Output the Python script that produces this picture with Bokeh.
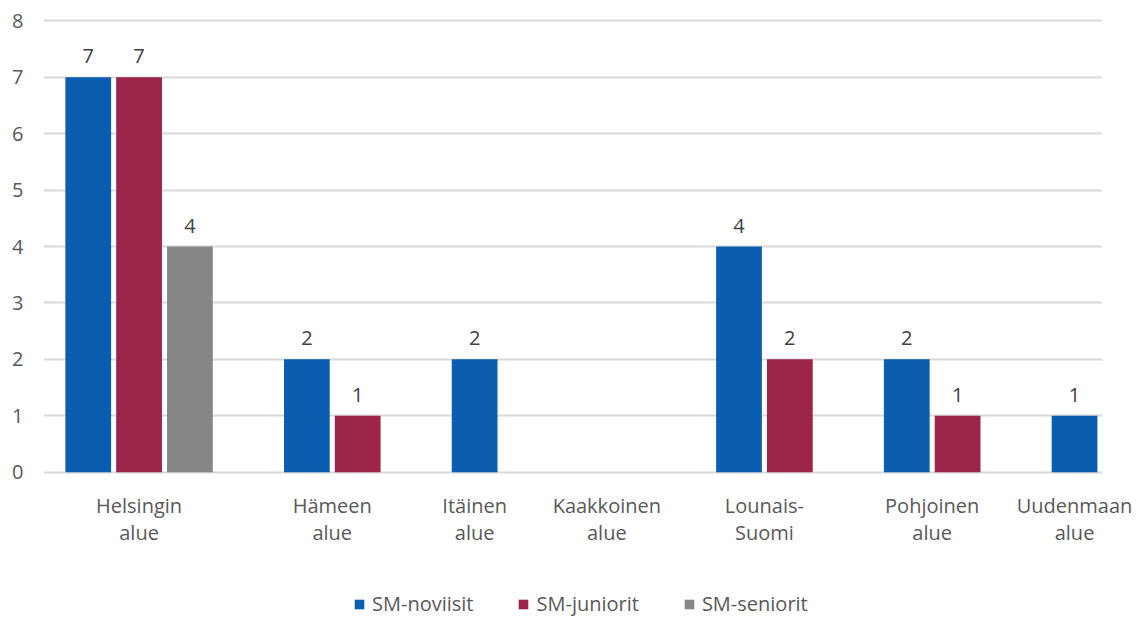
from bokeh.plotting import figure
from bokeh.models import ColumnDataSource, FixedTicker, Legend, LegendItem, Range1d
from bokeh.layouts import column
from bokeh.core.properties import value
from bokeh.embed import file_html
from bokeh.resources import INLINE

# ---- data ----
categories = ["Helsingin alue", "Hämeen alue", "Itäinen alue", "Kaakkoinen alue",
              "Lounais-Suomi", "Pohjoinen alue", "Uudenmaan alue"]
category_labels = ["Helsingin\nalue", "Hämeen\nalue", "Itäinen\nalue", "Kaakkoinen\nalue",
                   "Lounais-\nSuomi", "Pohjoinen\nalue", "Uudenmaan\nalue"]
series_names = ["SM-noviisit", "SM-juniorit", "SM-seniorit"]
noviisit = [7, 2, 2, 0, 4, 2, 1]
juniorit = [7, 1, 0, 0, 2, 1, 0]
seniorit = [4, 0, 0, 0, 0, 0, 0]
y_ticks = [0, 1, 2, 3, 4, 5, 6, 7, 8]

# ---- style ----
colors = ["#0B5EAF", "#9B2549", "#868686"]
FONT = "Open Sans"
FS = "20px"
TEXT_COLOR = "#595959"
LABEL_COLOR = "#404040"

# ---- layout (slots only for bars that exist, like the original) ----
LEFT_PAD, GAP, EMPTY, RIGHT_PAD = 0.38, 1.3, 1.6, 0.05
all_series = [noviisit, juniorit, seniorit]
bars = {i: {"x": [], "top": [], "label": []} for i in range(3)}
tick_pos = []
cursor = LEFT_PAD
for ci, cat in enumerate(categories):
    if ci > 0:
        cursor += GAP
    start = cursor
    present = [si for si in range(3) if all_series[si][ci] > 0]
    if present:
        for si in present:
            bars[si]["x"].append(cursor + 0.5)
            bars[si]["top"].append(all_series[si][ci])
            bars[si]["label"].append(str(all_series[si][ci]))
            cursor += 1
    else:
        cursor += EMPTY
    tick_pos.append((start + cursor) / 2)
x_end = cursor + RIGHT_PAD

p = figure(width=1140, height=555, output_backend="svg", toolbar_location=None,
           x_range=Range1d(0, x_end), y_range=Range1d(-0.04, 8.04),
           min_border_left=43, min_border_right=38, min_border_top=18, min_border_bottom=81)
p.outline_line_color = None
p.background_fill_color = "white"
p.border_fill_color = "white"

for si in range(3):
    src = ColumnDataSource(bars[si])
    p.vbar(x="x", top="top", bottom=0, width=0.9, source=src,
           fill_color=colors[si], line_color=None)
    p.text(x="x", y="top", text="label", source=src, text_align="center",
           text_baseline="alphabetic", y_offset=-21, text_font=value(FONT),
           text_font_size=FS, text_color=LABEL_COLOR)

# axes
p.xaxis.ticker = FixedTicker(ticks=tick_pos)
p.xaxis.major_label_overrides = {t: lab for t, lab in zip(tick_pos, category_labels)}
p.xaxis.axis_line_color = None
p.xaxis.major_tick_line_color = None
p.xaxis.minor_tick_line_color = None
p.xaxis.major_label_standoff = 11
p.xaxis.major_label_text_font = FONT
p.xaxis.major_label_text_font_size = FS
p.xaxis.major_label_text_color = TEXT_COLOR
p.xaxis.major_label_text_line_height = 1.0

p.yaxis.ticker = FixedTicker(ticks=y_ticks)
p.yaxis.axis_line_color = None
p.yaxis.major_tick_line_color = None
p.yaxis.minor_tick_line_color = None
p.yaxis.major_label_standoff = 14
p.yaxis.major_label_text_font = FONT
p.yaxis.major_label_text_font_size = FS
p.yaxis.major_label_text_color = TEXT_COLOR

p.xgrid.grid_line_color = None
p.ygrid.grid_line_color = "#D9D9D9"
p.ygrid.grid_line_width = 2
p.ygrid.level = "underlay"

# legend strip (its own small figure so that it sits below the axis labels)
lg = figure(width=1140, height=62, output_backend="svg", toolbar_location=None,
            x_axis_type=None, y_axis_type=None, x_range=Range1d(0, 1), y_range=Range1d(0, 1),
            min_border=0, min_border_left=0, min_border_right=0,
            min_border_top=0, min_border_bottom=0)
lg.outline_line_color = None
lg.background_fill_color = "white"
lg.border_fill_color = "white"
legend_renderers = []
for si in range(3):
    # zero-height swatch per series: only its legend entry is visible
    swatch = ColumnDataSource({"x": [0.5], "top": [0]})
    legend_renderers.append(lg.vbar(x="x", top="top", bottom=0, width=0.1, source=swatch,
                                    fill_color=colors[si], line_color=None))
legend = Legend(items=[LegendItem(label=series_names[i], renderers=[legend_renderers[i]]) for i in range(3)],
                orientation="horizontal", location=(310, 0),
                glyph_width=12, glyph_height=12, spacing=44, label_standoff=7,
                padding=0, margin=0, border_line_color=None, background_fill_alpha=0,
                label_text_font=FONT, label_text_font_size=FS, label_text_color=TEXT_COLOR)
lg.add_layout(legend, "center")

layout = column(p, lg, spacing=0)
open("out.html", "w").write(file_html(layout, INLINE))
